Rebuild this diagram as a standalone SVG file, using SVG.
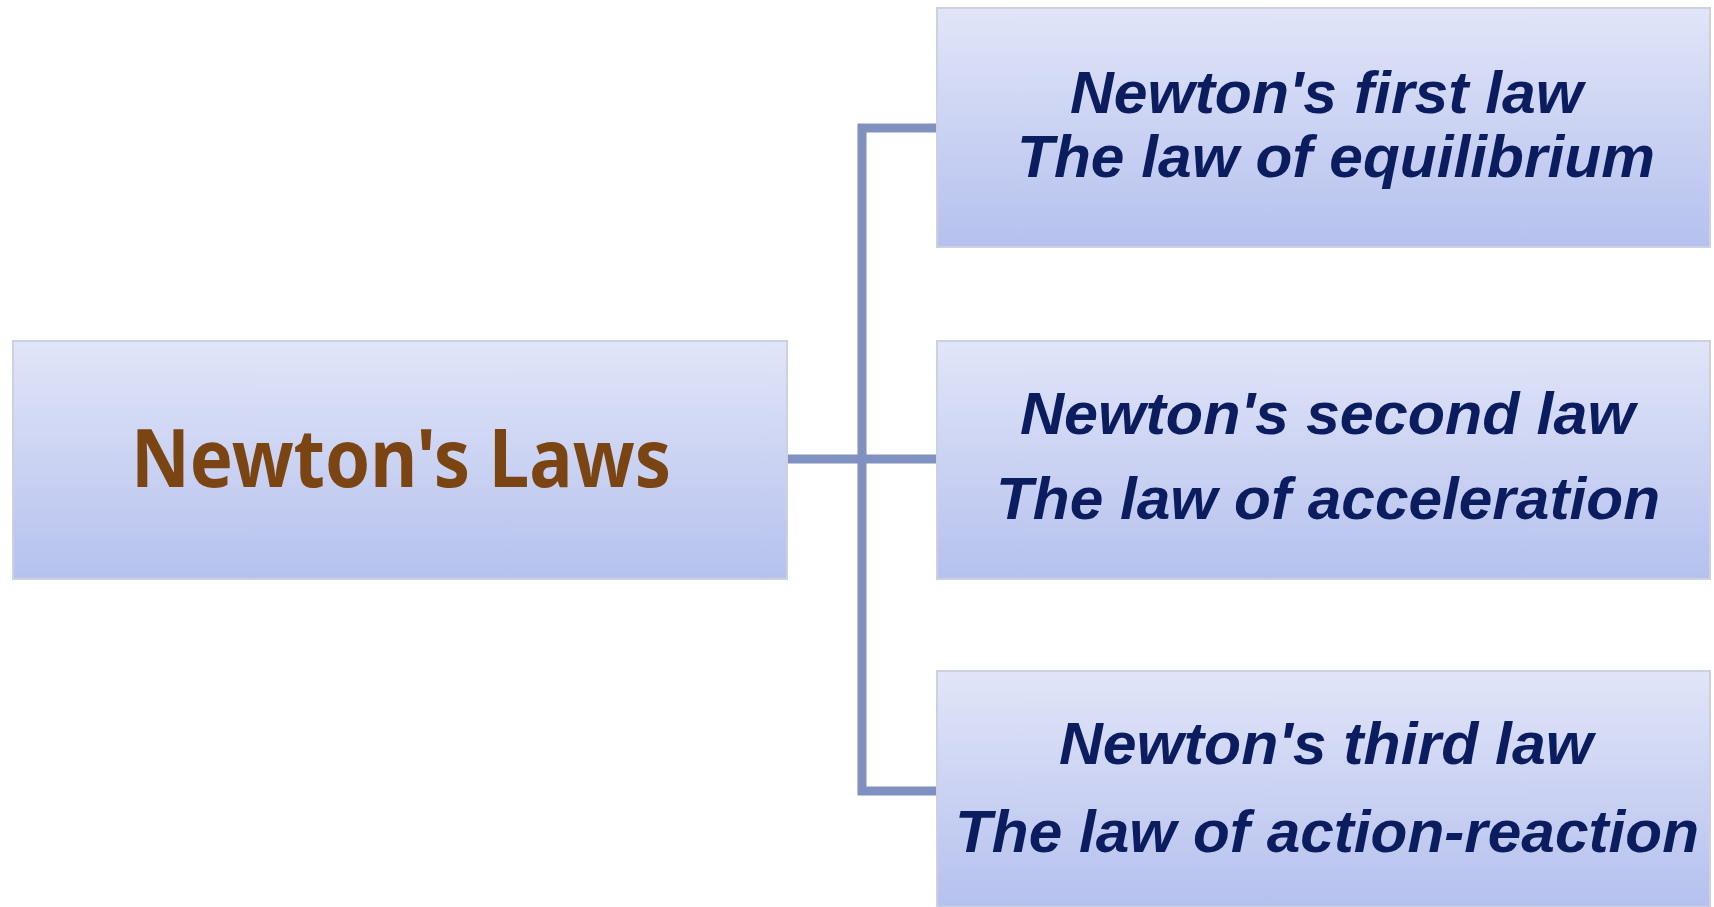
<svg xmlns="http://www.w3.org/2000/svg" width="1714" height="907" viewBox="0 0 1714 907">
<defs>
<linearGradient id="g" x1="0" y1="0" x2="0" y2="1">
<stop offset="0" stop-color="#e1e5f8"/>
<stop offset="1" stop-color="#b5c1ee"/>
</linearGradient>
</defs>
<style>
.box{fill:url(#g);stroke:#cdd0de;stroke-width:2}
.law{font-family:"Liberation Sans",Arial,sans-serif;font-weight:bold;font-style:italic;font-size:60px;fill:#0b1d5e}
.title{font-family:"Noto Sans","DejaVu Sans",sans-serif;font-weight:bold;font-size:80px;fill:#7a4512}
.conn{fill:none;stroke:#8090c0;stroke-width:9}
</style>
<rect width="1714" height="907" fill="#ffffff"/>
<g id="connectors">
<path class="conn" d="M937 128 H862 V791 H937"/>
<path class="conn" d="M787 459 H937"/>
</g>
<g id="root">
<rect class="box" x="13" y="341" width="774" height="238"/>
<text class="title" x="131" y="487" textLength="540" lengthAdjust="spacingAndGlyphs">Newton's Laws</text>
</g>
<g id="law1">
<rect class="box" x="937" y="8" width="773" height="239"/>
<text class="law" x="1070" y="113" textLength="513" lengthAdjust="spacingAndGlyphs">Newton's first law</text>
<text class="law" x="1017" y="177" textLength="638" lengthAdjust="spacingAndGlyphs">The law of equilibrium</text>
</g>
<g id="law2">
<rect class="box" x="937" y="341" width="773" height="238"/>
<text class="law" x="1020" y="434" textLength="615" lengthAdjust="spacingAndGlyphs">Newton's second law</text>
<text class="law" x="996" y="519" textLength="664" lengthAdjust="spacingAndGlyphs">The law of acceleration</text>
</g>
<g id="law3">
<rect class="box" x="937" y="671" width="773" height="236"/>
<text class="law" x="1059" y="764" textLength="534" lengthAdjust="spacingAndGlyphs">Newton's third law</text>
<text class="law" x="955" y="852" textLength="744" lengthAdjust="spacingAndGlyphs">The law of action-reaction</text>
</g>
</svg>
